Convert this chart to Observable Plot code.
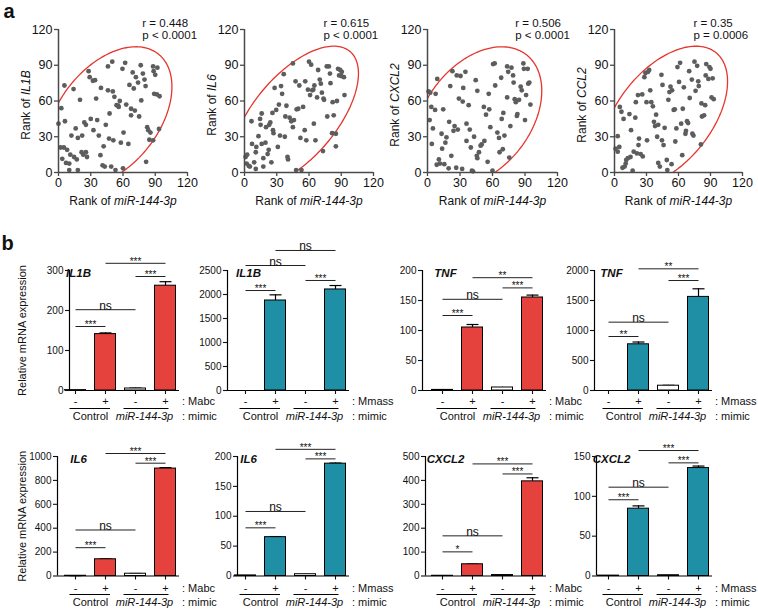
<!DOCTYPE html>
<html><head><meta charset="utf-8">
<script src="https://cdn.jsdelivr.net/npm/d3@7"></script>
<script src="https://cdn.jsdelivr.net/npm/@observablehq/plot@0.6"></script>
<style>
html,body{margin:0;padding:0;background:#fff;}
#root{position:relative;width:758px;height:610px;overflow:hidden;background:#fff;}
#root svg{position:absolute;left:0;top:0;background:transparent !important;overflow:visible;}
</style></head><body><div id="root"></div>
<script>
// ---------------- DATA ----------------
// Panel a: ranks
const scatterGenes = ["IL1B", "IL6", "CXCL2", "CCL2"];
const scatterXLabel = "Rank of miR-144-3p";
const rLabels = ["r = 0.448", "r = 0.615", "r = 0.506", "r = 0.35"];
const pLabels = ["p < 0.0001", "p < 0.0001", "p < 0.0001", "p = 0.0006"];
const rankTicks = [0, 30, 60, 90, 120];

const il1bPts = [[0,41],[2.6,54],[5.5,73],[6,43],[2,21],[5,21],[3.5,11.5],[8,19],[7,8],[10,7.5],[10,2],[11,15],[12,31],[14,70],[14.5,13],[16,37],[17,11],[18,29],[20,61],[18,2],[21.5,17],[22,31],[23,15],[24,42],[25.5,40],[25.5,17],[26.5,13],[28,85],[29,80],[30,45],[32,77],[34,77.5],[32.5,35.5],[35,62],[36,44],[37.5,31],[39.5,71],[39,14.5],[41,6],[42,22],[43,5],[44,40],[46,89],[46,69],[47,28.5],[47.5,49.5],[50,93],[50.5,68],[49,5],[51,27],[52,63.5],[53,2],[54,56.5],[55.5,56],[56,55],[57,60],[58,25],[59.5,87],[60,3.5],[60.5,33.5],[62,92],[63,57],[65,24],[66,73.5],[67.5,48],[67.5,53.5],[69,84],[70,70.5],[71,52],[72,80],[74,75.5],[75,47],[76.5,90],[77,60.5],[78.5,83],[80,78],[81,72.5],[81.5,9],[82.5,38],[83.5,35.5],[84.5,27.5],[88,89],[88.5,85],[90,82],[89,66],[92,88],[91.5,65.5],[94,64],[93.5,36.5],[88,27],[85.5,33.5]];
const il6Pts = [[1,13],[2.5,15],[2,7.5],[4,5.5],[5,5],[6.5,43],[7,24],[9,8.5],[10.5,17],[10.5,3],[11,21.5],[13,30.5],[14.5,45],[15,40],[16,24],[16,49.5],[17.5,12],[17.5,5],[19.5,25],[20,38],[21.5,15.5],[22.5,19],[23,40],[24,42],[25,8.5],[26,50],[26.5,35.5],[27,33],[28,71],[29.5,52.5],[31,21.5],[32,57],[33,31],[34,72.5],[35,66],[36.5,82.5],[37.5,30],[38,47],[39,56],[40,13],[40.5,11],[42,46],[43.5,43],[45,91.5],[45,38],[46,44],[47.5,76.5],[48,2],[48.5,53],[50,53.5],[51,73],[52,29],[53,2],[54.5,55],[56,35.5],[56.5,76.5],[57.5,27],[59,69.5],[60,93],[61,65],[62,90.5],[63,69],[64,69.5],[64.5,41],[65,73],[66,27],[67.5,63],[68.5,86],[70,78],[71,74.5],[72,67],[73,18],[73.5,62],[74,61],[76.5,89],[77,47],[78.5,89],[79.5,83],[80,75],[81.5,33],[82,59],[83,48],[85,32.5],[86,60],[85,22],[87,87],[89,86],[90.5,84.5],[88,81.5],[90,81],[92.5,80],[93,65]];
const cxcl2Pts = [[1,68],[2.5,67],[2,44],[3.5,55],[4,24],[5,37],[7,52.5],[7.5,66],[9,78.5],[8.5,6.5],[10.5,11],[11.5,7.5],[13,32.5],[13.5,20],[14.5,53],[15.5,7],[16.5,25],[17.5,29.5],[19.5,3.5],[20,42.5],[21,72.5],[22,14],[23,85],[24,35],[25,39],[26.5,4],[27,81.5],[28,36],[29,62],[30.5,81],[32,3],[32.5,59.5],[33,71],[35,84.5],[36,41],[36,26.5],[38,56.5],[39,36],[40,21],[41,1.5],[42,1],[43,30],[44.5,77.5],[45.5,14],[46,68.5],[46,12],[47.5,17],[49,22.5],[50,23.5],[52,55],[52.5,26.5],[54,48.5],[55.5,9],[56.5,66],[57,53],[58,38],[60,1.5],[60.5,91],[62,91.5],[62.5,73],[64.5,33.5],[66,29],[66.5,17],[68,79.5],[68.5,45],[69.5,19.5],[70,50],[71,31],[73.5,63],[73.5,89],[74.5,84.5],[75.5,12.5],[76.5,39],[77.5,88],[79,81.5],[79.5,75.5],[80.5,61.5],[81.5,59],[82.5,47.5],[83,49],[84.5,61],[86,72],[87,69],[88.5,91.5],[89,87],[90,44],[91,65],[92.5,87],[93,74.5],[94,75.5],[95,57]];
const ccl2Pts = [[1,20],[3,30.5],[3,17.5],[4.5,21.5],[5,55],[6.5,51],[8.5,45],[7.5,4],[9.5,5],[10.5,7.5],[11,10.5],[12.5,12],[14,49],[15,13],[15.5,35.5],[17,1.5],[18,17.5],[19.5,46],[20,59],[21,16],[22,65],[22.5,23],[23,28.5],[24.5,15.5],[26,65.5],[26.5,13.5],[28,80],[29,83.5],[30,59],[30.5,27],[31.5,84.5],[32.5,86],[33.5,69],[34.5,59],[36,55.5],[37,42.5],[38,39],[39,48.5],[40,30],[41,40],[41,8],[42.5,5],[44,82],[44.5,27],[45,73.5],[46,23],[47,37.5],[49,10.5],[49.5,2],[50.5,61],[51.5,67.5],[52.5,72],[53.5,7],[54,69],[55.5,52.5],[56.5,53],[57,26],[58,37],[59,88.5],[60.5,76],[61.5,92],[62.5,41],[63.5,14.5],[64,53.5],[65,71.5],[66.5,32.5],[67,35],[68,43],[69,41.5],[70,85],[70.5,62.5],[72.5,78],[73,32.5],[74,31],[75,93],[76,68.5],[77.5,89.5],[78.5,76.5],[79,72.5],[81,23.5],[81.5,58],[82,47],[84,48],[85,56.5],[85.5,81.5],[86,91],[88,78.5],[89,88.5],[90,87],[91,63],[92,79],[93,61.5]];
const scatterPts = [il1bPts, il6Pts, cxcl2Pts, ccl2Pts];
// confidence ellipse: centre x, centre y, semi-major, semi-minor (45° axis)
const ellipseParams = [[47,47,69.9,44.3],[47,47,74.9,36.8],[47,47,68.4,46.5],[47,47,72.2,41.8]];

// Panel b: relative mRNA expression
const conds = ["-", "+", "-", "+"];
const groupLabels = ["Control", "miR-144-3p"];
const barGenes = ["IL1B", "IL1B", "TNF", "TNF", "IL6", "IL6", "CXCL2", "CXCL2"];
const stimuli = ["Mabc", "Mmass", "Mabc", "Mmass", "Mabc", "Mmass", "Mabc", "Mmass"];
const yMax = [300, 2500, 200, 2000, 1000, 200, 500, 150];
const yTicks = [[0,100,200,300],[0,500,1000,1500,2000,2500],[0,50,100,150,200],[0,500,1000,1500,2000],[0,200,400,600,800,1000],[0,50,100,150,200],[0,100,200,300,400,500],[0,50,100,150]];
const means = [[1,141,5,262],[0,1875,0,2105],[1,105,5,155],[0,770,80,1560],[2,140,19,899],[1,65,3,188],[1,49,4,396],[0.5,84.5,1,135.5]];
const errs = [[0.3,3,1,10],[0,118,0,82],[0.3,5,0.5,4],[0,38,6,135],[1,3,2,8],[0.3,1,0.5,1],[0.3,1,0.5,15],[0.2,3.5,0.3,2.5]];
// significance brackets [from bar, to bar, height, label]
const brackets = [
  [[1,2,160,"***"],[1,3,202,"ns"],[3,4,285,"***"],[2,4,318,"***"]],
  [[1,2,2083,"***"],[1,3,2604,"ns"],[3,4,2292,"***"],[2,4,2917,"ns"]],
  [[1,2,125,"***"],[1,3,152,"ns"],[3,4,171,"***"],[2,4,188,"**"]],
  [[1,2,900,"**"],[1,3,1139,"ns"],[3,4,1833,"***"],[2,4,2028,"**"]],
  [[1,2,237,"***"],[1,3,385,"ns"],[3,4,944,"***"],[2,4,1025,"***"]],
  [[1,2,80.6,"***"],[1,3,108,"ns"],[3,4,196,"***"],[2,4,212,"***"]],
  [[1,2,101,"*"],[1,3,168,"ns"],[3,4,427,"***"],[2,4,469,"***"]],
  [[1,2,95.7,"***"],[1,3,111.5,"ns"],[3,4,142,"***"],[2,4,157.5,"***"]]
];

// ---------------- LAYOUT / STYLE ----------------
const W = 758, H = 610;
const FONT = "'Liberation Sans', Arial, Helvetica, sans-serif";
const root = document.getElementById("root");
const RED = "#e5423e", TEAL = "#1f8fa6", DOT = "#5d5d5d", ELL = "#e5352c", AX = "#4a4a4a";
function mount(svg) { root.appendChild(svg); }
const baseStyle = {fontFamily: FONT, fontSize: "11px", background: "transparent", overflow: "visible", color: "#111"};
const plain = d => String(d);

// scatter frames
const scFrames = [[58,187],[244,373],[427,557],[614,742]];
const scTop = 29, scBottom = 172;
const annotX = [78, 73.5, 81, 74];

for (let k = 0; k < 4; k++) {
  const pts = scatterPts[k].map(([x, y]) => ({x, y}));
  const [cx, cy, a, b] = ellipseParams[k];
  const c = Math.SQRT1_2;
  const ell = d3.range(0, 362, 2).map(deg => {
    const t = deg * Math.PI / 180, u = a * Math.cos(t), v = b * Math.sin(t);
    return {x: cx + (u - v) * c, y: cy + (u + v) * c};
  });
  const [fl, fr] = scFrames[k];
  const marks = [
    Plot.line(ell, {x: "x", y: "y", stroke: ELL, strokeWidth: 1.3, clip: true}),
    Plot.dot(pts, {x: "x", y: "y", r: 2.4, fill: DOT}),
    Plot.ruleX([0], {stroke: AX, strokeWidth: 1.5}),
    Plot.ruleY([0], {stroke: AX, strokeWidth: 1.5}),
    Plot.axisX({ticks: rankTicks, tickFormat: plain, tickSize: 4, tickPadding: 2, fontSize: 12.5, label: null, stroke: AX, strokeWidth: 1.3}),
    Plot.axisY({ticks: rankTicks, tickFormat: plain, tickSize: 4, tickPadding: 2, fontSize: 12.5, label: null, stroke: AX, strokeWidth: 1.3}),
    Plot.text([scatterXLabel], {frameAnchor: "bottom", dy: 29, fontSize: 12, text: d => d, textAnchor: "middle", lineAnchor: "middle"}),
    Plot.text(["Rank of " + scatterGenes[k]], {frameAnchor: "left", rotate: -90, dx: -32, dy: 4, fontSize: 12, text: d => d, textAnchor: "middle", lineAnchor: "middle"}),
    Plot.text([rLabels[k]], {x: annotX[k], y: 120, dy: -6.5, textAnchor: "start", lineAnchor: "middle", fontSize: 11.5, text: d => d}),
    Plot.text([pLabels[k]], {x: annotX[k], y: 120, dy: 5.5, textAnchor: "start", lineAnchor: "middle", fontSize: 11.5, text: d => d})
  ];
  if (k === 0) marks.push(Plot.text(["a"], {frameAnchor: "top-left", dx: -55, dy: -26, textAnchor: "start", lineAnchor: "top", fontSize: 20, fontWeight: "bold", text: d => d}));
  mount(Plot.plot({
    width: W, height: H,
    marginLeft: fl, marginRight: W - fr, marginTop: scTop, marginBottom: H - scBottom,
    x: {domain: [0, 120]}, y: {domain: [0, 120]},
    style: baseStyle, marks
  }));
}

// bar chart frames
const STEP = 30;
const rowTop = [270, 456], rowBottom = [390, 575.5];
const axisPx = [[69, 227, 422, 594], [57, 237, 425, 596]];
const firstBarPx = [75, 245, 442, 608];
const signDy = [10.5, 12.5], lineDy = [18, 18.5], groupDy = [26, 26.5];

for (let k = 0; k < 8; k++) {
  const row = Math.floor(k / 4), col = k % 4;
  const L = axisPx[row][col], c1 = firstBarPx[col], R = c1 + 3 * STEP + 14;
  const xLo = 1 - (c1 - L) / STEP, xHi = 4 + 14 / STEP;
  const color = col % 2 ? TEAL : RED;
  const bars = conds.map((s, i) => ({pos: i + 1, sign: s, v: means[k][i], e: errs[k][i], filled: i % 2 === 1}));
  const brk = brackets[k].map(([i, j, y, label]) => ({i, j, y, label}));
  const groups = [
    {label: groupLabels[0], x1: 0.8, x2: 2.15, mid: 1.5},
    {label: groupLabels[1], x1: 2.6, x2: 4.1, mid: 3.3}
  ];
  const marks = [
    Plot.ruleX(bars, {x: "pos", y1: "v", y2: d => d.v + d.e, stroke: "#000", strokeWidth: 1.2}),
    Plot.link(bars.filter(d => d.e > 0.5), {x1: d => d.pos - 0.2, x2: d => d.pos + 0.2, y1: d => d.v + d.e, y2: d => d.v + d.e, stroke: "#000", strokeWidth: 1.2}),
    Plot.rect(bars.filter(d => !d.filled), {x1: d => d.pos - 0.35, x2: d => d.pos + 0.35, y1: 0, y2: "v", fill: "white", stroke: "#000", strokeWidth: 1}),
    Plot.rect(bars.filter(d => d.filled), {x1: d => d.pos - 0.35, x2: d => d.pos + 0.35, y1: 0, y2: "v", fill: color, stroke: "#000", strokeWidth: 1}),
    Plot.ruleY([0], {stroke: "#000", strokeWidth: 1.2}),
    Plot.ruleX([xLo], {stroke: "#000", strokeWidth: 1.2}),
    Plot.axisY({ticks: yTicks[k], tickFormat: plain, tickSize: 4, tickPadding: 2, fontSize: 10, label: null, strokeWidth: 1.1}),
    Plot.axisX({ticks: [1, 2, 3, 4], tickSize: 4, tickFormat: () => "", label: null, strokeWidth: 1.1}),
    // significance brackets
    Plot.link(brk, {x1: "i", x2: "j", y1: "y", y2: "y", stroke: "#222", strokeWidth: 1}),
    Plot.text(brk.filter(d => d.label === "ns"), {x: d => (d.i + d.j) / 2, y: "y", text: "label", lineAnchor: "bottom", dy: 0, fontSize: 12}),
    Plot.text(brk.filter(d => d.label !== "ns"), {x: d => (d.i + d.j) / 2, y: "y", text: "label", lineAnchor: "bottom", dy: 1.5, fontSize: 10}),
    // gene label
    Plot.text([barGenes[k]], {x: 1, y: yMax[k], dx: 3, dy: 3, text: d => d, fontSize: 11.5, fontWeight: "bold", fontStyle: "italic", lineAnchor: "middle"}),
    // condition labels under the axis
    Plot.text(bars, {x: "pos", y: 0, dy: signDy[row], text: "sign", fontSize: 11, lineAnchor: "middle"}),
    Plot.text([": " + stimuli[k]], {x: 4.55, y: 0, dy: signDy[row], text: d => d, textAnchor: "start", fontSize: 11, lineAnchor: "middle"}),
    Plot.link(groups, {x1: "x1", x2: "x2", y1: 0, y2: 0, dy: lineDy[row], stroke: "#000", strokeWidth: 1}),
    Plot.text(groups.slice(0, 1), {x: "mid", y: 0, dy: groupDy[row], text: "label", fontSize: 11, lineAnchor: "middle"}),
    Plot.text(groups.slice(1), {x: "mid", y: 0, dy: groupDy[row], text: "label", fontSize: 11, fontStyle: "italic", lineAnchor: "middle"}),
    Plot.text([": mimic"], {x: 4.55, y: 0, dy: groupDy[row], text: d => d, textAnchor: "start", fontSize: 11, lineAnchor: "middle"})
  ];
  if (col === 0) marks.push(Plot.text(["Relative mRNA expression"], {frameAnchor: "left", rotate: -90, dx: 22 - L, text: d => d, fontSize: 11, textAnchor: "middle", lineAnchor: "middle"}));
  if (k === 0) marks.push(Plot.text(["b"], {frameAnchor: "top-left", dx: -68, dy: -35, textAnchor: "start", lineAnchor: "top", fontSize: 20, fontWeight: "bold", text: d => d}));
  mount(Plot.plot({
    width: W, height: H,
    marginLeft: L, marginRight: W - R, marginTop: rowTop[row], marginBottom: H - rowBottom[row],
    x: {domain: [xLo, xHi]}, y: {domain: [0, yMax[k]]},
    style: baseStyle, marks
  }));
}

// italicise gene / miRNA names inside the "Rank of ..." labels
const SVGNS = "http://www.w3.org/2000/svg";
root.querySelectorAll("text").forEach(t => {
  const s = t.textContent;
  if (s.startsWith("Rank of ") && t.children.length === 0) {
    const rest = s.slice(8);
    t.textContent = "";
    t.appendChild(document.createTextNode("Rank of "));
    const ts = document.createElementNS(SVGNS, "tspan");
    ts.setAttribute("font-style", "italic");
    ts.textContent = rest;
    t.appendChild(ts);
  }
});
</script></body></html>
